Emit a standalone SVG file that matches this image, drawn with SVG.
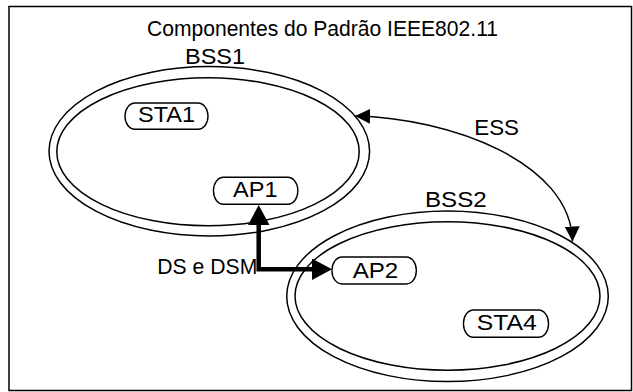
<svg xmlns="http://www.w3.org/2000/svg" width="633" height="392" viewBox="0 0 633 392">
<style>
  .frame { fill: #ffffff; stroke: #000; stroke-width: 1.5; }
  .ring { fill: none; stroke: #000; stroke-width: 1.5; }
  .pill { fill: #ffffff; stroke: #000; stroke-width: 1.4; }
  .t { font-family: "Liberation Sans", Arial, sans-serif; font-size: 22px; fill: #000; text-anchor: start; }
  .thin { fill: none; stroke: #000; stroke-width: 1.5; }
  .thick { fill: none; stroke: #000; stroke-width: 4.5; stroke-linejoin: miter; }
</style>
<defs>
  <marker id="ah" markerUnits="userSpaceOnUse" markerWidth="16" markerHeight="16" refX="15" refY="7.5" orient="auto-start-reverse" viewBox="0 0 16 16">
    <path d="M0,0 L15,7.5 L0,15 z" fill="#000"/>
  </marker>
  <marker id="big" markerUnits="userSpaceOnUse" markerWidth="21" markerHeight="22" refX="0" refY="10.75" orient="auto-start-reverse" viewBox="0 0 21 22">
    <path d="M0,0 L20,10.75 L0,21.5 z" fill="#000"/>
  </marker>
</defs>

<rect class="frame" x="9" y="6.5" width="622.5" height="384"/>
<text id="title" class="t" x="147" y="36" font-size="21.5" textLength="351" lengthAdjust="spacingAndGlyphs">Componentes do Padrão IEEE802.11</text>

<g id="bss1">
  <ellipse class="ring" cx="209.3" cy="151.3" rx="160.3" ry="84.7"/>
  <ellipse class="ring" cx="208" cy="151.8" rx="151.2" ry="74"/>
  <text class="t" x="185" y="64" textLength="60" lengthAdjust="spacingAndGlyphs">BSS1</text>
</g>

<g id="bss2">
  <ellipse class="ring" cx="447.5" cy="296.3" rx="160.8" ry="85.3"/>
  <ellipse class="ring" cx="447.5" cy="296" rx="152.5" ry="74.2"/>
  <text class="t" x="425" y="207.3" textLength="61.7" lengthAdjust="spacingAndGlyphs">BSS2</text>
</g>

<g id="sta1">
  <rect class="pill" x="125" y="103" width="83" height="26.3" rx="10" ry="13"/>
  <text class="t" x="138" y="121.7" textLength="57" lengthAdjust="spacingAndGlyphs">STA1</text>
</g>

<g id="ap1">
  <rect class="pill" x="213.5" y="177.3" width="84.3" height="27" rx="10" ry="13"/>
  <text class="t" x="233" y="197" textLength="44.5" lengthAdjust="spacingAndGlyphs">AP1</text>
</g>

<g id="ap2">
  <rect class="pill" x="332" y="257" width="84.3" height="27" rx="10" ry="13"/>
  <text class="t" x="352.7" y="278.3" textLength="45.6" lengthAdjust="spacingAndGlyphs">AP2</text>
</g>

<g id="sta4">
  <rect class="pill" x="463.5" y="310" width="85" height="27.3" rx="10" ry="13"/>
  <text class="t" x="476.7" y="330" textLength="60" lengthAdjust="spacingAndGlyphs">STA4</text>
</g>

<g id="connectors">
  <path id="ess" class="thin" d="M355,116 C450,118 571,162 572.5,241.5" marker-start="url(#ah)" marker-end="url(#ah)"/>
  <text class="t" x="474.3" y="135" textLength="44.7" lengthAdjust="spacingAndGlyphs">ESS</text>
  <path id="ds" class="thick" d="M312,269.3 L258.7,269.3 L258.7,225" marker-start="url(#big)" marker-end="url(#big)"/>
  <text class="t" x="157.3" y="274" textLength="100" lengthAdjust="spacingAndGlyphs">DS e DSM</text>
</g>
</svg>
